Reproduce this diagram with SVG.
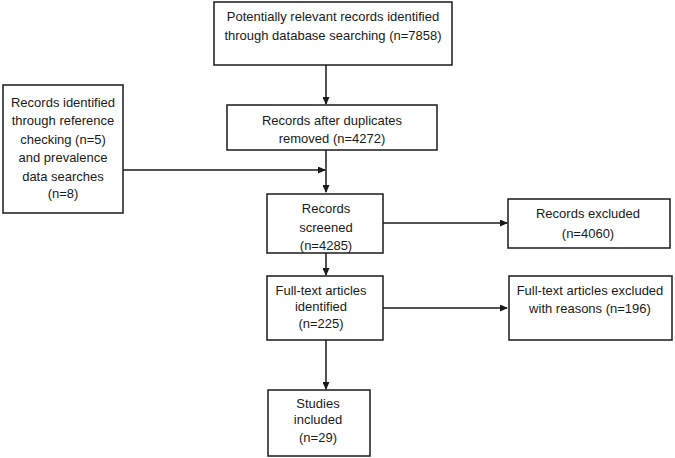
<svg xmlns="http://www.w3.org/2000/svg" width="675" height="458" viewBox="0 0 675 458">
<style>
rect.b{fill:#fff;stroke:#1a1a1a;stroke-width:1.5}
text{font-family:"Liberation Sans",Arial,sans-serif;font-size:13px;fill:#1a1a1a;text-anchor:middle}
.c line{stroke:#1a1a1a;stroke-width:1.5}
</style>
<defs>
<marker id="ah" markerWidth="8" markerHeight="7" refX="7" refY="3.5" orient="auto" markerUnits="userSpaceOnUse">
<path d="M0,0 L8,3.5 L0,7 Z" fill="#1a1a1a"/>
</marker>
</defs>
<rect width="675" height="458" fill="#fff"/>
<g class="c" id="connectors">
<line x1="326" y1="65" x2="326" y2="104" marker-end="url(#ah)"/>
<line x1="326" y1="150" x2="326" y2="192" marker-end="url(#ah)"/>
<line x1="123" y1="170" x2="325" y2="170" marker-end="url(#ah)"/>
<line x1="383" y1="223" x2="507" y2="223" marker-end="url(#ah)"/>
<line x1="326" y1="253" x2="326" y2="275" marker-end="url(#ah)"/>
<line x1="383" y1="308" x2="507" y2="308" marker-end="url(#ah)"/>
<line x1="326" y1="340" x2="326" y2="389" marker-end="url(#ah)"/>
</g>
<g id="n1"><rect class="b" x="214" y="2" width="238" height="63"/>
<text x="333" y="21">Potentially relevant records identified</text>
<text x="333" y="40">through database searching (n=7858)</text></g>
<g id="n2"><rect class="b" x="227" y="105" width="210" height="45"/>
<text x="332" y="125">Records after duplicates</text>
<text x="332" y="143">removed (n=4272)</text></g>
<g id="n3"><rect class="b" x="3" y="85" width="120" height="128"/>
<text x="63" y="107">Records identified</text>
<text x="63" y="125">through reference</text>
<text x="63" y="143.5">checking (n=5)</text>
<text x="63" y="162">and prevalence</text>
<text x="63" y="181">data searches</text>
<text x="63" y="198">(n=8)</text></g>
<g id="n4"><rect class="b" x="267" y="194" width="116" height="59"/>
<text x="326" y="213">Records</text>
<text x="326" y="232">screened</text>
<text x="326" y="250">(n=4285)</text></g>
<g id="n5"><rect class="b" x="508" y="199" width="162" height="49"/>
<text x="588" y="218">Records excluded</text>
<text x="588" y="238">(n=4060)</text></g>
<g id="n6"><rect class="b" x="267" y="276" width="116" height="64"/>
<text x="321" y="295">Full-text articles</text>
<text x="321" y="311">identified</text>
<text x="321" y="328">(n=225)</text></g>
<g id="n7"><rect class="b" x="509" y="276" width="163" height="64"/>
<text x="590" y="295">Full-text articles excluded</text>
<text x="590" y="313">with reasons (n=196)</text></g>
<g id="n8"><rect class="b" x="268" y="390" width="102" height="66"/>
<text x="318" y="408">Studies</text>
<text x="318" y="424">included</text>
<text x="318" y="442">(n=29)</text></g>
</svg>
